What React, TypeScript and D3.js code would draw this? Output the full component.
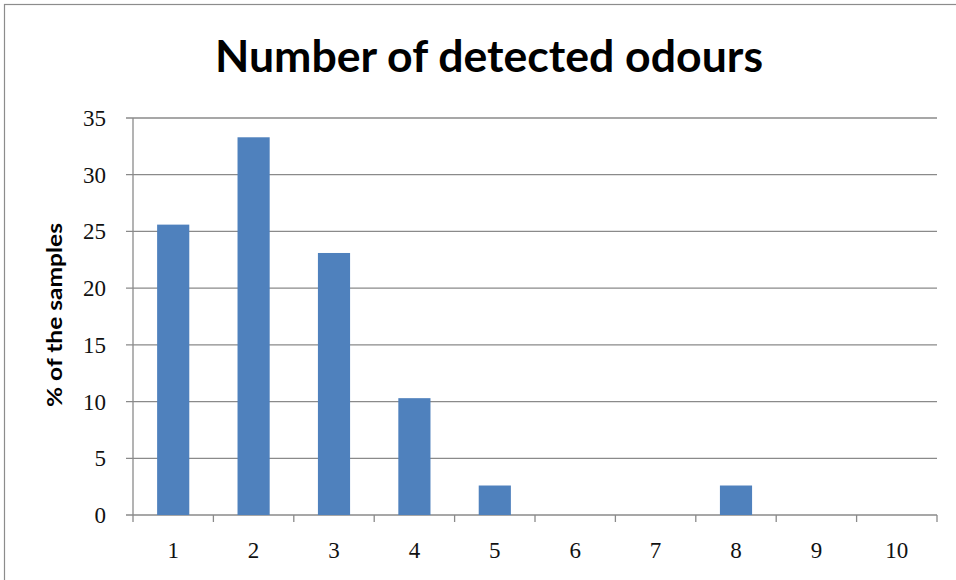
import React from "react";
import * as d3 from "d3";

const categories: string[] = ["1", "2", "3", "4", "5", "6", "7", "8", "9", "10"];
const values: number[] = [25.6, 33.3, 23.1, 10.3, 2.6, 0, 0, 2.6, 0, 0];
const yTicks: number[] = [0, 5, 10, 15, 20, 25, 30, 35];
const title = "Number of detected odours";
const yTitle = "% of the samples";

export default function App() {
  const W = 956, H = 580;
  const left = 133, right = 937, top = 118, bottom = 515;
  const x = d3.scaleBand<string>().domain(categories).range([left, right]).paddingInner(0.6).paddingOuter(0.3);
  const xb = d3.scaleBand<string>().domain(categories).range([left, right]);
  const y = d3.scaleLinear().domain([0, 35]).range([bottom, top]);
  const grid = "#8a8a8a";
  return (
    <svg width={W} height={H} style={{ position: "absolute", left: 0, top: 0, background: "#fff" }}>
      <rect x={4.5} y={4.5} width={1000} height={1000} fill="#fff" stroke="#8c8c8c" strokeWidth={1.2} />
      <text x={489} y={72} textAnchor="middle" fontFamily="Lato, 'Open Sans', sans-serif" fontWeight={700} fontSize={44} textLength={548} lengthAdjust="spacingAndGlyphs" fill="#000">{title}</text>
      {yTicks.map((t) => (
        <g key={t}>
          <line x1={left - 7} x2={right} y1={y(t)} y2={y(t)} stroke={grid} strokeWidth={1.3} />
          <text x={106} y={y(t) + 8} textAnchor="end" fontFamily="'Liberation Serif', serif" fontSize={23} fill="#111">{t}</text>
        </g>
      ))}
      <line x1={left} x2={left} y1={top} y2={bottom} stroke={grid} strokeWidth={1.3} />
      {categories.map((c) => (
        <line key={"t" + c} x1={xb(c)!} x2={xb(c)!} y1={bottom} y2={bottom + 7} stroke={grid} strokeWidth={1.3} />
      ))}
      <line x1={right} x2={right} y1={bottom} y2={bottom + 7} stroke={grid} strokeWidth={1.3} />
      {categories.map((c, i) => (
        values[i] > 0 ? (
          <rect key={"b" + c} x={x(c)!} y={y(values[i])} width={x.bandwidth()} height={bottom - y(values[i])} fill="#4f81bd" />
        ) : null
      ))}
      {categories.map((c) => (
        <text key={"l" + c} x={xb(c)! + xb.bandwidth() / 2} y={558} textAnchor="middle" fontFamily="'Liberation Serif', serif" fontSize={23} fill="#111">{c}</text>
      ))}
      <text transform={`translate(62, 315) rotate(-90)`} textAnchor="middle" fontFamily="Lato, 'Open Sans', sans-serif" fontWeight={700} fontSize={20} textLength={184} lengthAdjust="spacingAndGlyphs" fill="#000">{yTitle}</text>
    </svg>
  );
}
